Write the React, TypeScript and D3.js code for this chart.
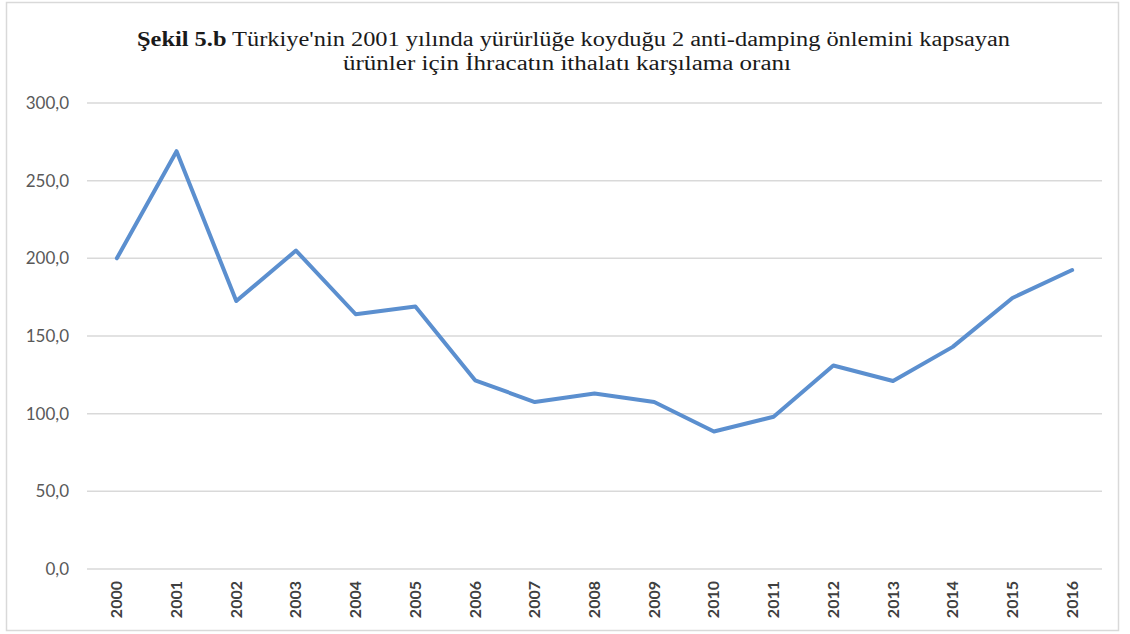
import React, { useEffect, useRef } from "react";
import * as d3 from "d3";

const years: string[] = ["2000","2001","2002","2003","2004","2005","2006","2007","2008","2009","2010","2011","2012","2013","2014","2015","2016"];
const ratio: number[] = [200.0, 269.0, 172.5, 205.0, 164.0, 169.0, 121.5, 107.5, 113.0, 107.5, 88.5, 98.0, 131.0, 121.0, 143.0, 174.5, 192.5];
const yTicks: number[] = [0, 50, 100, 150, 200, 250, 300];
const titleBold = "Şekil 5.b";
const titleLine1 = " Türkiye'nin 2001 yılında yürürlüğe koyduğu 2 anti-damping önlemini kapsayan";
const titleLine2 = "ürünler için İhracatın ithalatı karşılama oranı";

const W = 1130;
const H = 634;

export default function App() {
  const ref = useRef<SVGSVGElement>(null);

  useEffect(() => {
    const svg = d3.select(ref.current);
    svg.selectAll("*").remove();

    const left = 87, right = 1102, top = 103, bottom = 569;
    const x = d3.scalePoint<string>().domain(years).range([left, right]).padding(0.5);
    const y = d3.scaleLinear().domain([0, 300]).range([bottom, top]);

    svg.append("rect").attr("x", 0).attr("y", 0).attr("width", W).attr("height", H).attr("fill", "#ffffff");
    svg.append("rect").attr("x", 6.5).attr("y", 2.5).attr("width", 1112).attr("height", 628)
      .attr("fill", "none").attr("stroke", "#d9d9d9").attr("stroke-width", 1.5);

    // title
    const t1 = svg.append("text").attr("x", 573.5).attr("y", 46).attr("text-anchor", "middle")
      .attr("font-family", "'Liberation Serif', 'Times New Roman', serif").attr("font-size", 20)
      .attr("fill", "#1a1a1a").attr("textLength", 873).attr("lengthAdjust", "spacingAndGlyphs");
    t1.append("tspan").attr("font-weight", "bold").text(titleBold);
    t1.append("tspan").text(titleLine1);
    svg.append("text").attr("x", 567).attr("y", 70).attr("text-anchor", "middle")
      .attr("font-family", "'Liberation Serif', 'Times New Roman', serif").attr("font-size", 20)
      .attr("fill", "#1a1a1a").attr("textLength", 448).attr("lengthAdjust", "spacingAndGlyphs")
      .text(titleLine2);

    // grid
    const grid = svg.append("g");
    grid.selectAll("line").data(yTicks).join("line")
      .attr("x1", left).attr("x2", right)
      .attr("y1", d => y(d)).attr("y2", d => y(d))
      .attr("stroke", "#d9d9d9").attr("stroke-width", 1.5);

    // y labels
    const fmt = (v: number) => d3.format(".1f")(v).replace(".", ",");
    svg.append("g").selectAll("text").data(yTicks).join("text")
      .attr("x", 69).attr("y", d => y(d)).attr("dy", "0.35em").attr("text-anchor", "end")
      .attr("font-family", "Lato, 'Open Sans', sans-serif").attr("font-size", 17)
      .attr("fill", "#595959").text(d => fmt(d));

    // x labels
    svg.append("g").selectAll("text").data(years).join("text")
      .attr("transform", d => `translate(${x(d)! + 5.5},581) rotate(-90)`)
      .attr("text-anchor", "end")
      .attr("font-family", "Lato, 'Open Sans', sans-serif").attr("font-size", 16).attr("font-weight", "bold")
      .attr("fill", "#404040").text(d => d);

    // line
    const line = d3.line<number>().x((_, i) => x(years[i])!).y(d => y(d));
    svg.append("path").datum(ratio).attr("d", line)
      .attr("fill", "none").attr("stroke", "#5b8fcf").attr("stroke-width", 4)
      .attr("stroke-linejoin", "round").attr("stroke-linecap", "round");
  }, []);

  return (
    <svg ref={ref} width={W} height={H} style={{ position: "absolute", left: 0, top: 0, display: "block" }} />
  );
}
